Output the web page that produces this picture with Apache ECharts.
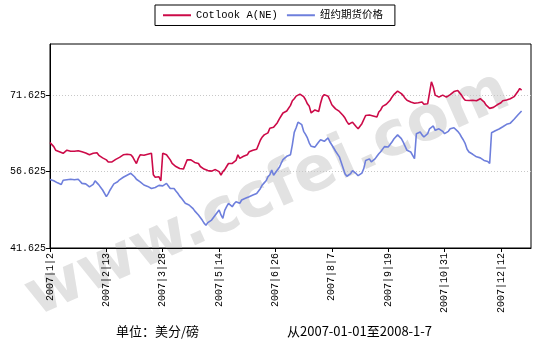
<!DOCTYPE html>
<html>
<head>
<meta charset="utf-8">
<script src="https://cdn.jsdelivr.net/npm/echarts@6/dist/echarts.min.js"></script>
<style>
  html, body { margin: 0; padding: 0; background: #fff; }
  #chart { width: 540px; height: 351px; }
</style>
</head>
<body>
<div id="chart"></div>
<script>
// tick labels shown every 30 trading days
const tickLabels = ['2007|1|2', '2007|2|13', '2007|3|28', '2007|5|14', '2007|6|26',
  '2007|8|7', '2007|9|19', '2007|10|31', '2007|12|12']
const dayCount = 257
const categories = Array.from({length: dayCount}, (_, i) => String(i))

const yTicks = [41.625, 56.625, 71.625]

// Cotlook A(NE), cents/lb
const cotlook = [
  62.3, 61.9, 61.5, 60.8, 60.6, 60.5, 60.45, 60.2, 60.1, 60.8,
  60.7, 60.6, 60.8, 60.6, 60.45, 60.7, 60.6, 60.5, 60.3, 60.25,
  60.1, 59.9, 59.7, 60.2, 60.5, 60.3, 59.8, 59.5, 59.3, 59.1,
  58.9, 58.5, 58.2, 58.5, 58.8, 59.0, 59.2, 59.4, 59.6, 59.9,
  59.8, 60.0, 59.9, 59.9, 59.5, 58.8, 58.2, 59.2, 59.9, 60.0,
  59.8, 60.1, 60.0, 60.3, 60.2, 56.0, 55.5, 55.2, 55.6, 54.8,
  60.2, 60.3, 59.9, 59.6, 58.9, 58.2, 57.9, 57.6, 57.4, 57.2,
  57.5, 57.1, 58.0, 58.9, 58.6, 58.9, 59.0, 58.4, 58.2, 58.2,
  57.6, 57.3, 57.1, 56.9, 56.8, 56.9, 56.7, 56.8, 57.0, 57.25,
  56.6, 55.9, 56.6, 57.0, 57.6, 58.2, 58.55, 58.2, 57.9, 58.8,
  59.9, 59.2, 59.3, 59.6, 59.5, 59.9, 60.5, 60.6, 60.8, 60.7,
  61.0, 61.2, 62.8, 63.4, 63.8, 63.5, 64.2, 65.1, 65.0, 65.3,
  65.45, 66.2, 66.9, 67.5, 68.1, 68.2, 68.5, 68.7, 69.6, 70.5,
  70.9, 71.4, 71.3, 71.8, 72.0, 71.3, 70.7, 69.9, 69.4, 68.1,
  68.4, 68.7, 68.6, 68.4, 70.0, 71.3, 71.7, 71.5, 71.4, 70.6,
  69.7, 69.3, 68.9, 68.6, 68.4, 68.1, 67.6, 67.1, 66.4, 65.9,
  66.1, 66.3, 66.0, 65.4, 65.0, 65.5, 66.0, 66.3, 67.6, 67.96,
  67.7, 67.6, 67.5, 67.4, 67.3, 68.3, 68.7, 69.4, 69.7, 69.8,
  69.9, 70.6, 71.2, 71.7, 71.9, 72.4, 72.5, 71.9, 71.5, 71.0,
  70.6, 70.4, 70.25, 70.1, 70.0, 69.9, 70.1, 70.3, 70.25, 69.8,
  69.6, 69.9, 70.25, 74.2, 73.2, 71.6, 71.3, 71.2, 71.5, 71.6,
  71.3, 71.2, 71.5, 71.7, 71.9, 72.3, 72.5, 72.5, 72.2, 71.6,
  71.0, 70.6, 70.7, 70.55, 70.4, 70.6, 70.5, 70.5, 70.7, 70.9,
  71.0, 70.3, 69.7, 69.5, 69.0, 69.3, 69.2, 69.5, 69.7, 69.9,
  70.1, 70.5, 70.3, 70.65, 70.8, 70.9, 71.0, 71.3, 71.6, 72.3,
  72.9, 72.6
]

// NY futures, cents/lb
const nyFutures = [
  55.06, 54.9, 54.8, 54.7, 54.4, 54.2, 54.07, 54.9, 54.8, 55.0,
  55.15, 55.1, 54.8, 55.0, 55.1, 55.1, 54.7, 54.3, 54.5, 54.2,
  53.98, 53.6, 53.3, 54.1, 54.8, 54.4, 54.0, 53.5, 53.0, 52.8,
  51.7, 52.3, 53.0, 53.6, 54.2, 54.4, 54.6, 55.0, 55.2, 55.5,
  55.6, 55.9, 56.1, 56.27, 55.9, 55.6, 55.1, 54.9, 54.6, 54.3,
  53.98, 53.8, 53.7, 53.6, 53.3, 53.4, 53.5, 53.6, 53.9, 53.7,
  53.8, 54.1, 54.3, 53.8, 53.3, 53.4, 53.3, 52.8, 52.35, 51.8,
  51.37, 51.0, 50.4, 50.2, 50.06, 49.7, 49.41, 48.9, 48.74, 48.1,
  47.6, 47.1, 46.5, 46.1, 46.6, 46.78, 47.1, 47.6, 48.1, 48.6,
  49.08, 48.1, 47.45, 49.0, 49.72, 50.39, 50.1, 49.72, 50.3, 50.7,
  50.5, 50.39, 51.04, 51.2, 51.37, 51.5, 51.68, 51.9, 52.0, 52.0,
  52.3, 52.66, 53.3, 53.98, 54.4, 54.8, 55.6, 56.0, 56.9, 55.9,
  55.7, 56.9, 57.4, 58.2, 58.94, 59.3, 59.6, 59.8, 59.92, 61.9,
  64.3, 65.2, 66.3, 66.6, 65.8, 64.5, 63.9, 63.2, 62.2, 61.57,
  61.25, 61.4, 61.9, 62.4, 62.86, 62.6, 62.55, 62.9, 63.2, 62.4,
  62.2, 61.23, 60.6, 60.25, 59.5, 59.27, 57.3, 56.2, 55.7, 55.9,
  56.2, 56.8, 57.06, 56.2, 55.8, 55.55, 56.3, 57.2, 58.8, 58.9,
  59.1, 58.5, 58.8, 59.1, 59.6, 60.1, 60.5, 60.78, 61.5, 61.76,
  61.43, 61.9, 62.4, 63.0, 63.39, 63.8, 64.04, 63.06, 62.4, 62.08,
  60.78, 60.6, 60.45, 59.8, 59.13, 64.04, 64.2, 64.37, 63.8, 63.39,
  63.7, 64.04, 65.0, 65.35, 65.55, 64.7, 64.9, 65.0, 64.7, 64.5,
  64.04, 64.3, 64.5, 65.0, 65.35, 65.2, 65.0, 64.5, 64.04, 63.39,
  62.8, 62.08, 61.0, 60.45, 60.1, 60.0, 59.8, 59.5, 59.17, 59.3,
  59.0, 58.8, 58.78, 58.6, 58.2, 64.23, 64.4, 64.63, 64.7, 64.96,
  65.1, 65.4, 65.6, 65.88, 66.08, 66.1, 66.13, 66.86, 67.2, 67.7,
  68.1, 68.5
]

const monoFont = "'Liberation Mono', 'DejaVu Sans Mono', monospace"
const cjkFont = "'Liberation Mono', 'Noto Sans CJK SC', sans-serif"

var myChart = echarts.init(document.getElementById('chart'), null, {renderer: 'canvas'})

myChart.setOption({
  animation: false,
  backgroundColor: '#fff',
  legend: {
    left: 155,
    top: 5,
    padding: [5, 12, 5, 8],
    itemGap: 9,
    itemWidth: 28,
    itemHeight: 2,
    icon: 'rect',
    borderColor: '#000',
    borderWidth: 1,
    borderRadius: 0,
    textStyle: {fontFamily: cjkFont, fontSize: 10.5, color: '#000'},
    data: ['Cotlook A(NE)', '纽约期货价格']
  },
  grid: {
    left: 50,
    right: 9,
    top: 44,
    bottom: 103,
    show: true,
    borderColor: '#000',
    borderWidth: 1
  },
  graphic: [
    {
      type: 'text',
      z: 0,
      x: 268,
      y: 195,
      rotation: 0.42,
      silent: true,
      style: {
        text: 'www.ccfei.com',
        fill: 'rgba(190,190,190,0.45)',
        font: 'bold 62px "DejaVu Sans", sans-serif',
        align: 'center',
        verticalAlign: 'middle'
      }
    },
    {
      type: 'text',
      left: 116,
      top: 325,
      style: {text: '单位：美分/磅', fill: '#000', font: '13px "Noto Sans CJK SC", sans-serif'}
    },
    {
      type: 'text',
      left: 287,
      top: 325,
      style: {text: '从2007-01-01至2008-1-7', fill: '#000', font: '13px "Noto Sans CJK SC", sans-serif'}
    }
  ],
  xAxis: {
    type: 'category',
    data: categories,
    boundaryGap: false,
    axisLine: {lineStyle: {color: '#000', width: 1}},
    axisTick: {interval: 29, length: 4, lineStyle: {color: '#000'}},
    axisLabel: {
      interval: 29,
      rotate: 90,
      margin: 5,
      color: '#000',
      fontFamily: monoFont,
      fontSize: 10,
      formatter: (value, index) => tickLabels[index / 30] || ''
    },
    splitLine: {show: false}
  },
  yAxis: {
    type: 'value',
    min: 41.625,
    max: 81.625,
    interval: 15,
    axisLine: {show: true, lineStyle: {color: '#000', width: 1}},
    axisTick: {show: true, length: 4, lineStyle: {color: '#000'}, customValues: yTicks},
    axisLabel: {
      color: '#000',
      margin: 4,
      fontFamily: monoFont,
      fontSize: 10,
      customValues: yTicks,
      formatter: v => v.toFixed(3)
    },
    splitLine: {show: true, lineStyle: {color: '#c8c8c8', type: [1, 2], width: 1}}
  },
  series: [
    {
      name: 'Cotlook A(NE)',
      type: 'line',
      data: cotlook,
      showSymbol: false,
      symbol: 'none',
      z: 5,
      lineStyle: {color: '#cc0a48', width: 1.6},
      itemStyle: {color: '#cc0a48'}
    },
    {
      name: '纽约期货价格',
      type: 'line',
      data: nyFutures,
      showSymbol: false,
      symbol: 'none',
      z: 4,
      lineStyle: {color: '#6e7fdc', width: 1.6},
      itemStyle: {color: '#6e7fdc'}
    }
  ]
})
</script>
</body>
</html>
